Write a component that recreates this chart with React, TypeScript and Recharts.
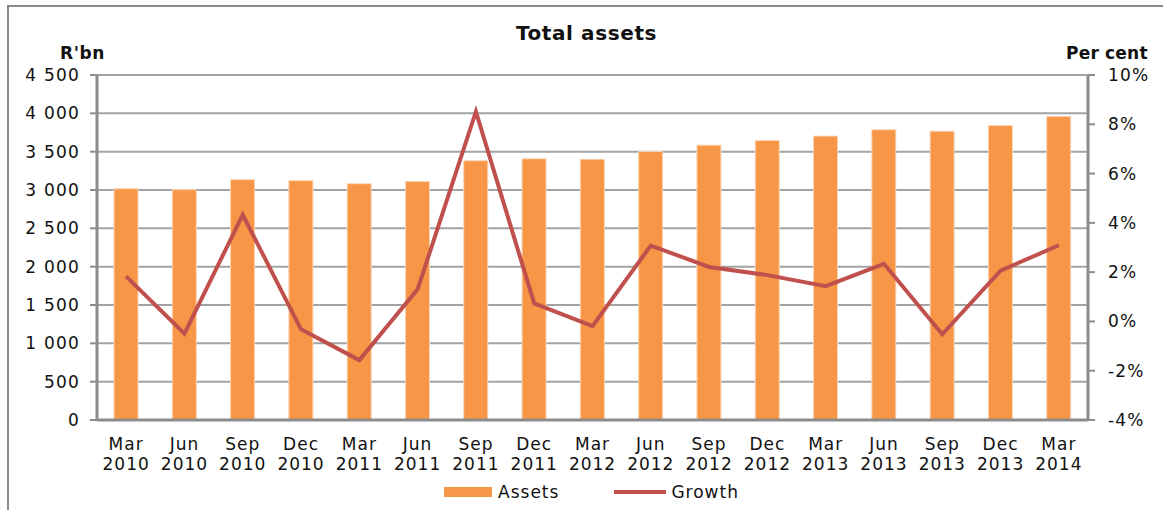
import React from "react";
import {
  ComposedChart,
  Bar,
  Line,
  XAxis,
  YAxis,
  CartesianGrid,
  Legend,
} from "recharts";

const categories = [
  "Mar 2010", "Jun 2010", "Sep 2010", "Dec 2010",
  "Mar 2011", "Jun 2011", "Sep 2011", "Dec 2011",
  "Mar 2012", "Jun 2012", "Sep 2012", "Dec 2012",
  "Mar 2013", "Jun 2013", "Sep 2013", "Dec 2013",
  "Mar 2014",
];

const assets = [
  3017, 3004, 3134, 3121,
  3082, 3112, 3381, 3407,
  3400, 3502, 3585, 3645,
  3703, 3785, 3767, 3841,
  3958,
];

const growth = [
  1.83, -0.5, 4.33, -0.32,
  -1.57, 1.3, 8.51, 0.73,
  -0.19, 3.08, 2.21, 1.88,
  1.43, 2.34, -0.52, 2.06,
  3.09,
];

const leftTicks = [0, 500, 1000, 1500, 2000, 2500, 3000, 3500, 4000, 4500];
const rightTicks = [-4, -2, 0, 2, 4, 6, 8, 10];

const data = categories.map((c, i) => ({
  name: c,
  Assets: assets[i],
  Growth: growth[i],
}));

const FONT = "'DejaVu Sans', Verdana, sans-serif";
const TEXT = "#111";
const AXIS = "#8c8c8c";

const fmtThousands = (v: number) => {
  const s = String(v);
  if (s.length <= 3) return s;
  return s.slice(0, s.length - 3) + " " + s.slice(s.length - 3);
};

const XTick = (props: any) => {
  const { x, y, payload } = props;
  const parts = String(payload.value).split(" ");
  return (
    <g transform={`translate(${x},${y})`}>
      <text
        textAnchor="middle"
        fontFamily={FONT}
        fontSize={17}
        letterSpacing={1}
        fill={TEXT}
      >
        <tspan x={0} dy={22}>{parts[0]}</tspan>
        <tspan x={0} dy={20}>{parts[1]}</tspan>
      </text>
    </g>
  );
};

const LegendContent = () => (
  <div
    style={{
      display: "flex",
      alignItems: "center",
      justifyContent: "center",
      fontFamily: FONT,
      fontSize: 17,
      letterSpacing: 1,
      color: TEXT,
      width: 1163,
      paddingLeft: 20,
      boxSizing: "border-box",
    }}
  >
    <div style={{ display: "flex", alignItems: "center", marginRight: 55 }}>
      <div style={{ width: 48, height: 10, background: "#F79646", marginRight: 6 }} />
      <span>Assets</span>
    </div>
    <div style={{ display: "flex", alignItems: "center" }}>
      <div style={{ width: 52, height: 4, background: "#C0504D", marginRight: 5 }} />
      <span>Growth</span>
    </div>
  </div>
);

export default function App() {
  return (
    <div
      style={{
        position: "absolute",
        left: 0,
        top: 0,
        width: 1163,
        height: 510,
        background: "#fff",
        overflow: "hidden",
      }}
    >
      <div
        style={{
          position: "absolute",
          left: 7,
          top: 5,
          width: 1200,
          height: 600,
          border: "2px solid #8a8a8a",
          boxSizing: "border-box",
        }}
      />
      <div
        style={{
          position: "absolute",
          left: 0,
          width: 1163,
          top: 21,
          textAlign: "center",
          fontFamily: FONT,
          fontWeight: "bold",
          fontSize: 20,
          letterSpacing: 0.6,
          color: TEXT,
          paddingLeft: 10,
          boxSizing: "border-box",
        }}
      >
        Total assets
      </div>
      <div
        style={{
          position: "absolute",
          left: 60,
          top: 43,
          fontFamily: FONT,
          fontWeight: "bold",
          fontSize: 17,
          letterSpacing: 0.6,
          color: TEXT,
        }}
      >
        R'bn
      </div>
      <div
        style={{
          position: "absolute",
          left: 1066,
          top: 43,
          fontFamily: FONT,
          fontWeight: "bold",
          fontSize: 17,
          letterSpacing: 0.2,
          color: TEXT,
          whiteSpace: "nowrap",
        }}
      >
        Per cent
      </div>
      <div style={{ position: "absolute", left: 0, top: 0 }}>
        <ComposedChart
          width={1163}
          height={510}
          data={data}
          margin={{ top: 75, right: 5, bottom: 20, left: 8 }}
        >
          <CartesianGrid
            yAxisId="left"
            vertical={false}
            stroke="#a3a3a3"
            strokeWidth={2}
          />
          <XAxis
            dataKey="name"
            xAxisId={0}
            height={50}
            tickLine={false}
            axisLine={{ stroke: AXIS, strokeWidth: 3 }}
            tick={<XTick />}
            interval={0}
          />
          <YAxis
            yAxisId="left"
            orientation="left"
            width={89}
            domain={[0, 4500]}
            ticks={leftTicks}
            interval={0}
            tickFormatter={fmtThousands}
            tickSize={7}
            tickMargin={10}
            axisLine={{ stroke: AXIS, strokeWidth: 3 }}
            tickLine={{ stroke: AXIS, strokeWidth: 2 }}
            tick={{ fontFamily: FONT, fontSize: 17, fill: TEXT, letterSpacing: 1.2 } as any}
          />
          <YAxis
            yAxisId="right"
            orientation="right"
            width={70}
            domain={[-4, 10]}
            ticks={rightTicks}
            interval={0}
            tickFormatter={(v: number) => `${v}%`}
            tickSize={7}
            tickMargin={13}
            axisLine={{ stroke: AXIS, strokeWidth: 3 }}
            tickLine={{ stroke: AXIS, strokeWidth: 2 }}
            tick={{ fontFamily: FONT, fontSize: 17, fill: TEXT, letterSpacing: 1.2 } as any}
          />
          <Legend
            verticalAlign="bottom"
            content={<LegendContent />}
            wrapperStyle={{ left: 0, top: 482, width: 1163 }}
          />
          <Bar
            yAxisId="left"
            dataKey="Assets"
            fill="#F79646"
            stroke="#fbd3b3"
            strokeWidth={1}
            barSize={24}
            isAnimationActive={false}
          />
          <Line
            yAxisId="right"
            dataKey="Growth"
            type="linear"
            stroke="#C0504D"
            strokeWidth={4}
            dot={false}
            activeDot={false}
            isAnimationActive={false}
          />
        </ComposedChart>
      </div>
    </div>
  );
}
